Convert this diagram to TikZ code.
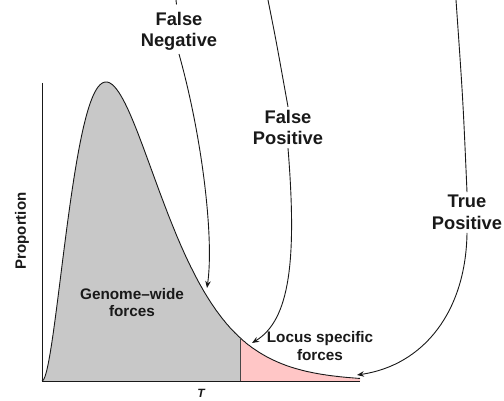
\documentclass[tikz,border=0pt]{standalone}
\usepackage{fontspec}
\setmainfont{Liberation Sans}
\usetikzlibrary{arrows.meta}
\definecolor{gwgray}{RGB}{200,200,200}
\definecolor{lspink}{RGB}{255,198,198}
\definecolor{ink}{RGB}{25,25,25}
\tikzset{
  biglabel/.style={font=\fontsize{18.3}{21.5}\selectfont\bfseries, align=center, text=ink, inner sep=3pt},
  smalllabel/.style={font=\fontsize{15.3}{17.5}\selectfont\bfseries, align=center, text=ink, inner sep=2pt},
  conn/.style={draw=ink, line width=0.9pt},
  arr/.style={conn, -{Stealth[length=7pt,width=5.5pt]}},
  axis/.style={draw=ink, line width=1pt}
}
\begin{document}
\begin{tikzpicture}[x=1pt,y=1pt]
\useasboundingbox (0,0) rectangle (504,400);
% fills
\fill[gwgray] (42,19) -- plot[domain=0:198, samples=120] ({42+\x},{19+299*(\x/64)^2*exp(2-\x/32)}) -- (240,19) -- cycle;
\fill[lspink] (240,19) -- plot[domain=198:318, samples=80] ({42+\x},{19+299*(\x/64)^2*exp(2-\x/32)}) -- (360,19) -- cycle;
% curve
\draw[conn] plot[domain=0:318, samples=200] ({42+\x},{19+299*(\x/64)^2*exp(2-\x/32)});
% divider
\coordinate (dtop) at (240,62);
\coordinate (dbot) at (240,19);
\draw[draw=ink!80, line width=0.8pt] (dtop) -- (dbot);
% axes
\coordinate (ytop) at (42,317);
\coordinate (orig) at (42,19);
\coordinate (xend) at (360,19);
\draw[axis] (ytop) -- (orig) -- (xend);
% labels
\node[biglabel] (fn) at (179,368.5) {False\\Negative};
\node[biglabel] (fp) at (288,272.5) {False\\Positive};
\node[biglabel] (tp) at (467,187.5) {True\\Positive};
\node[smalllabel] (gw) at (132,97.5) {Genome--wide\\forces};
\node[smalllabel] (ls) at (320,54) {Locus specific\\forces};
\node[font=\fontsize{15}{18}\selectfont\bfseries, text=ink, rotate=90] (prop) at (22,169) {Proportion};
\node[font=\fontsize{12}{14}\selectfont\bfseries\itshape, text=ink, anchor=north, inner sep=0pt] (tlab) at (201,11) {T};
% connectors
\coordinate (fnstub) at (176,400);
\coordinate (fptop) at (268,400);
\coordinate (tptop) at (456,400);
\coordinate (fntip) at (207,112);
\coordinate (fptip) at (252,57);
\coordinate (tptip) at (357,25);
\draw[conn] (fnstub) -- ++(0.5,-4.5);
\draw[conn] (fptop) .. controls (276,360) .. (fp.north);
\draw[conn] (tptop) .. controls (463,300) .. (tp.north);
\draw[arr] (fn.south) .. controls (203,260) and (214,160) .. (fntip);
\draw[arr] (fp.south) .. controls (297,140) and (290,80) .. (fptip);
\draw[arr] (tp.south) .. controls (466,90) and (425,35) .. (tptip);
\end{tikzpicture}
\end{document}
